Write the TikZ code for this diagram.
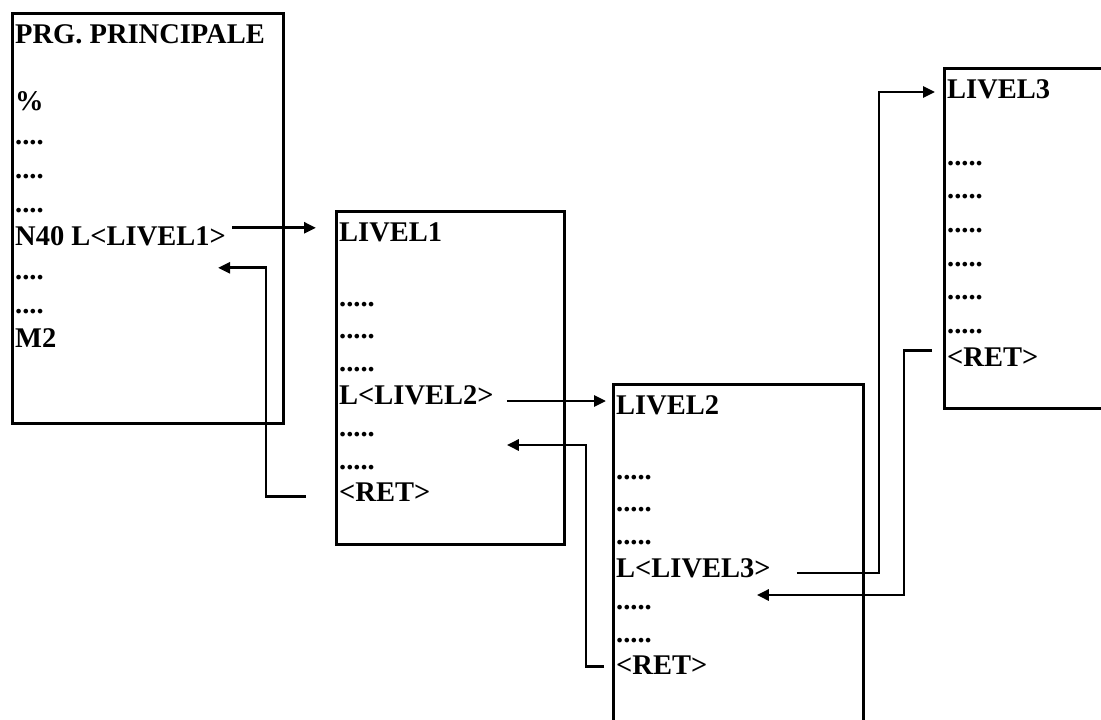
\documentclass[tikz,border=0pt]{standalone}
\usepackage{fontspec}
\newfontfamily\diagfont{Liberation Serif}
\usetikzlibrary{arrows.meta,calc}
\tikzset{
  boxst/.style={draw, line width=3pt, anchor=north west, inner sep=0pt},
  txt/.style={anchor=base west, inner sep=0pt, font=\diagfont\bfseries\fontsize{28.5}{33}\selectfont},
  arr/.style={line width=2.8pt, -{Triangle[length=12pt,width=11pt]}}
}
\begin{document}
\begin{tikzpicture}[x=1pt,y=-1pt]
\useasboundingbox (0,0) rectangle (1101,720);
\clip (0,0) rectangle (1101,720);
% boxes
\node[boxst, minimum width=271pt, minimum height=410pt] (box1) at (11,12) {};
\node[boxst, minimum width=228pt, minimum height=333pt] (box2) at (335,210) {};
\node[boxst, minimum width=250pt, minimum height=350pt] (box3) at (612,383) {};
\node[boxst, minimum width=170pt, minimum height=340pt] (box4) at (943,67) {};
% box 1 text
\node[txt] (h1) at (15,43) {PRG. PRINCIPALE};
\node[txt] (p1) at (15,110.6) {\%};
\node[txt] (d11) at (15,144.4) {....};
\node[txt] (d12) at (15,178.2) {....};
\node[txt] (d13) at (15,212) {....};
\node[txt] (n40) at (15,245.8) {N40 L<LIVEL1>};
\node[txt] (d14) at (15,279.6) {....};
\node[txt] (d15) at (15,313.4) {....};
\node[txt] (m2) at (15,347.2) {M2};
% box 2 text
\node[txt] (h2) at (339,241) {LIVEL1};
\node[txt] (d21) at (339,306.2) {.....};
\node[txt] (d22) at (339,338.8) {.....};
\node[txt] (d23) at (339,371.4) {.....};
\node[txt] (l2) at (339,404) {L<LIVEL2>};
\node[txt] (d24) at (339,436.6) {.....};
\node[txt] (d25) at (339,469.2) {.....};
\node[txt] (ret2) at (339,501.8) {<RET>};
% box 3 text
\node[txt] (h3) at (616,414) {LIVEL2};
\node[txt] (d31) at (616,479.2) {.....};
\node[txt] (d32) at (616,511.8) {.....};
\node[txt] (d33) at (616,544.4) {.....};
\node[txt] (l3) at (616,577) {L<LIVEL3>};
\node[txt] (d34) at (616,609.6) {.....};
\node[txt] (d35) at (616,642.2) {.....};
\node[txt] (ret3) at (616,674.8) {<RET>};
% box 4 text
\node[txt] (h4) at (947,98) {LIVEL3};
\node[txt] (d41) at (947,165.2) {.....};
\node[txt] (d42) at (947,198.8) {.....};
\node[txt] (d43) at (947,232.4) {.....};
\node[txt] (d44) at (947,266) {.....};
\node[txt] (d45) at (947,299.6) {.....};
\node[txt] (d46) at (947,333.2) {.....};
\node[txt] (ret4) at (947,366.8) {<RET>};
% connectors
\coordinate (a1s) at ($(n40.base east)+(6,-18)$);
\draw[arr] (a1s) -- ([xshift=-19pt]a1s -| box2.west);
\coordinate (v1) at ($(box1.north east)+(-19,0)$);
\coordinate (r1s) at ($(box2.west |- ret2.base)+(-29,-5)$);
\coordinate (t1) at ($(n40.base east)+(-8,22)$);
\draw[arr] (r1s) -- (r1s -| v1) |- (t1);
\coordinate (a2s) at ($(l2.base east)+(13,-3)$);
\draw[arr] (a2s) -- ([xshift=-6pt]a2s -| box3.west);
\coordinate (v2) at ($(box2.north east)+(20,0)$);
\coordinate (r2s) at ($(box3.west |- ret3.base)+(-8,-8)$);
\coordinate (t2) at ($(l2.base east)+(13,41)$);
\draw[arr] (r2s) -- (r2s -| v2) |- (t2);
\coordinate (a3s) at ($(l3.base east)+(26,-4)$);
\coordinate (v3) at ($(box4.north west)+(-64,0)$);
\coordinate (t3) at ($(box4.west |- h4.base)+(-8,-6)$);
\draw[arr] (a3s) -- (a3s -| v3) |- (t3);
\coordinate (r3s) at ($(box4.west |- ret4.base)+(-11,-16)$);
\coordinate (v4) at ($(box4.north west)+(-39,0)$);
\coordinate (t4) at ($(l3.base east)+(-14,18)$);
\draw[arr] (r3s) -- (r3s -| v4) |- (t4);
\end{tikzpicture}
\end{document}
